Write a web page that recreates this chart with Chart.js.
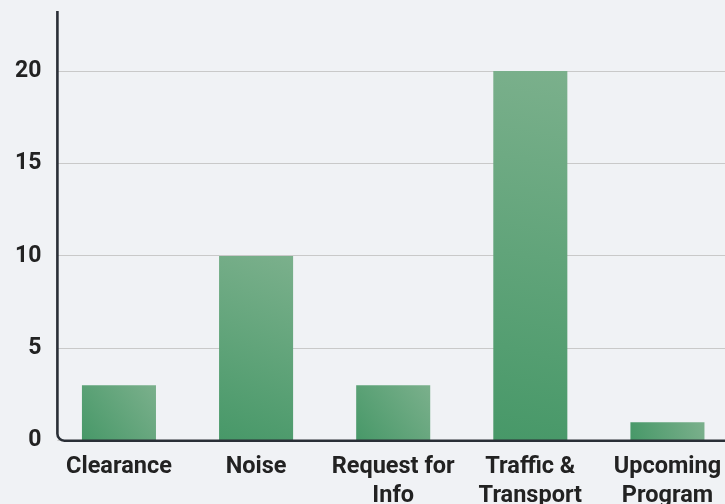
<!DOCTYPE html>
<html>
<head>
<meta charset="utf-8">
<script src="https://cdn.jsdelivr.net/npm/chart.js@4"></script>
<style>
  html, body { margin: 0; padding: 0; background: #f0f2f5; overflow: hidden; }
  #wrap { width: 740px; height: 520px; }
</style>
</head>
<body>
<div id="wrap"><canvas id="reportchart"></canvas></div>
<script>
const categories = [['Clearance'], ['Noise'], ['Request for', 'Info'], ['Traffic &', 'Transport'], ['Upcoming', 'Program']];
const reportCounts = [3, 10, 3, 20, 1];
const yTicks = [0, 5, 10, 15, 20];

const pageBg = '#f0f2f5';
const textColor = '#222222';
const axisColor = '#2a2f37';
const barPct = 0.54;

function barGradient(c) {
    const chart = c.chart;
    if (!chart.chartArea || c.type !== 'data') return '#5a9f72';
    const xs = chart.scales.x;
    const ys = chart.scales.y;
    const cx = xs.getPixelForValue(c.dataIndex);
    const half = xs.width / categories.length * barPct / 2;
    const top = ys.getPixelForValue(c.raw);
    const base = ys.getPixelForValue(0);
    const g = chart.ctx.createLinearGradient(cx - half, base, cx + half, top);
    g.addColorStop(0, '#479868');
    g.addColorStop(1, '#7bb08c');
    return g;
}

// axis lines with a rounded corner, a bit right of the category band start
const axisLines = {
    id: 'axisLines',
    beforeDatasetsDraw(chart) {
        const a = chart.chartArea;
        const ctx = chart.ctx;
        ctx.save();
        ctx.fillStyle = pageBg;
        ctx.fillRect(a.left - 1, a.top - 2, 8, a.bottom - a.top + 4);
        ctx.restore();
    },
    afterDatasetsDraw(chart) {
        const a = chart.chartArea;
        const ctx = chart.ctx;
        const x = a.left + 7;
        const r = 7;
        ctx.save();
        ctx.strokeStyle = axisColor;
        ctx.lineWidth = 2.6;
        ctx.beginPath();
        ctx.moveTo(x, a.top);
        ctx.lineTo(x, a.bottom - r);
        ctx.arcTo(x, a.bottom, x + r, a.bottom, r);
        ctx.lineTo(chart.width, a.bottom);
        ctx.stroke();
        ctx.restore();
    }
};

const ctxgraph = document.getElementById('reportchart').getContext('2d');
const reportChart = new Chart(ctxgraph, {
    type: 'bar',
    data: {
        labels: categories,
        datasets: [{
            label: 'Reports',
            data: reportCounts,
            backgroundColor: barGradient,
            borderWidth: 0,
            categoryPercentage: 1,
            barPercentage: barPct
        }]
    },
    plugins: [axisLines],
    options: {
        responsive: true,
        maintainAspectRatio: false,
        animation: false,
        layout: { padding: { top: 11, right: 4, left: 0, bottom: 0 } },
        plugins: {
            legend: { display: false },
            tooltip: { enabled: false }
        },
        scales: {
            x: {
                grid: { display: false, drawTicks: false },
                border: { display: false },
                ticks: {
                    color: textColor,
                    padding: 12,
                    maxRotation: 0,
                    autoSkip: false,
                    font: { family: 'Roboto', size: 23.5, weight: 'bold', lineHeight: 1.22 }
                },
                afterFit: (s) => { s.height = 79.3; s.paddingLeft = 0; s.paddingRight = 0; }
            },
            y: {
                min: 0,
                max: 23.25,
                grid: { color: '#c9c9c9', lineWidth: 1, drawTicks: false },
                border: { display: false },
                afterBuildTicks: (s) => { s.ticks = yTicks.map(v => ({ value: v })); },
                ticks: {
                    color: textColor,
                    padding: 9,
                    font: { family: 'Roboto', size: 23, weight: 'bold' }
                },
                afterFit: (s) => { s.width = 50.4; s.paddingTop = 0; s.paddingBottom = 0; }
            }
        }
    }
});
</script>
</body>
</html>
